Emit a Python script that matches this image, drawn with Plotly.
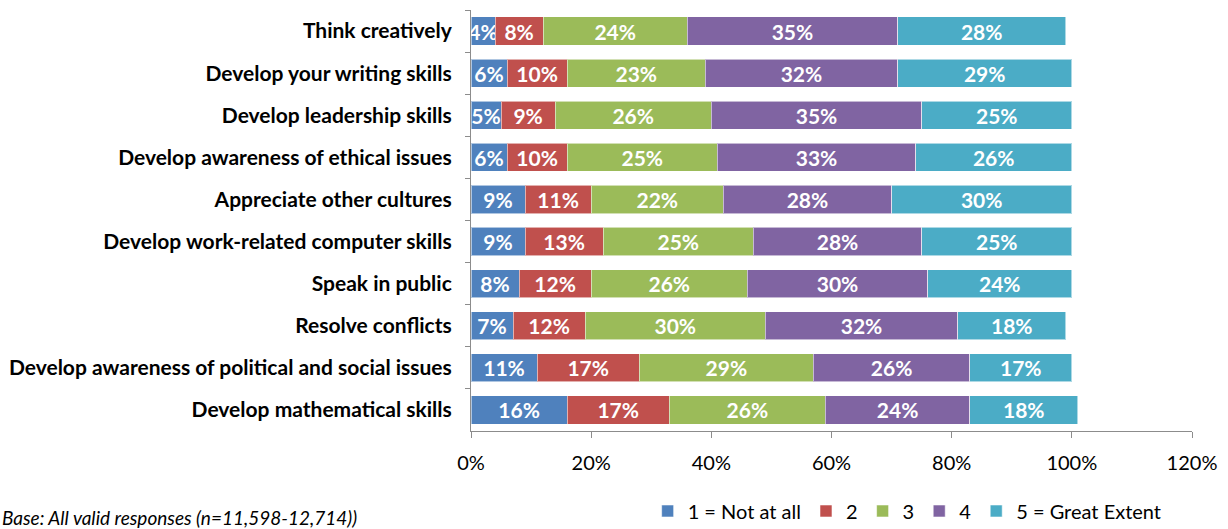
import plotly.graph_objects as go

categories = [
    "Think creatively",
    "Develop your writing skills",
    "Develop leadership skills",
    "Develop awareness of ethical issues",
    "Appreciate other cultures",
    "Develop work-related computer skills",
    "Speak in public",
    "Resolve conflicts",
    "Develop awareness of political and social issues",
    "Develop mathematical skills",
]

series_names = ["1 = Not at all", "2", "3", "4", "5 = Great Extent"]

not_at_all = [4, 6, 5, 6, 9, 9, 8, 7, 11, 16]
level_2 = [8, 10, 9, 10, 11, 13, 12, 12, 17, 17]
level_3 = [24, 23, 26, 25, 22, 25, 26, 30, 29, 26]
level_4 = [35, 32, 35, 33, 28, 28, 30, 32, 26, 24]
great_extent = [28, 29, 25, 26, 30, 25, 24, 18, 17, 18]

x_tick_values = [0, 20, 40, 60, 80, 100, 120]

series_values = [not_at_all, level_2, level_3, level_4, great_extent]
colors = ["#4F81BD", "#C0504D", "#9BBB59", "#8064A2", "#4BACC6"]

FONT = "Lato"

fig = go.Figure()
for name, vals, col in zip(series_names, series_values, colors):
    fig.add_trace(go.Bar(
        y=categories,
        x=vals,
        name=name,
        orientation="h",
        marker=dict(color=col, line=dict(color="rgba(255,255,255,0.55)", width=1)),
        text=[f"{v}%" for v in vals],
        textposition="inside",
        insidetextanchor="middle",
        textangle=0,
        textfont=dict(family=FONT, size=21, color="white", weight="bold"),
        width=0.67,
        hoverinfo="skip",
    ))

fig.update_layout(
    barmode="stack",
    width=1228,
    height=529,
    margin=dict(l=471, r=36, t=10, b=98, autoexpand=False),
    paper_bgcolor="white",
    plot_bgcolor="white",
    font=dict(family=FONT, color="black"),
    uniformtext=dict(minsize=21, mode="show"),
    showlegend=True,
    legend=dict(
        orientation="h",
        x=0.245, xanchor="left",
        y=-0.19, yanchor="middle",
        font=dict(family=FONT, size=20, color="black"),
        traceorder="normal",
        itemwidth=30,
        tracegroupgap=0,
    ),
    xaxis=dict(
        range=[0, 120],
        tickvals=x_tick_values,
        ticktext=[f"{v}%" for v in x_tick_values],
        showgrid=False,
        zeroline=False,
        showline=True,
        linecolor="#8C8C8C",
        linewidth=1,
        ticks="outside",
        ticklen=6,
        tickcolor="#8C8C8C",
        ticklabelstandoff=8,
        tickfont=dict(family=FONT, size=20, color="black"),
    ),
    yaxis=dict(
        categoryorder="array",
        categoryarray=categories,
        autorange="reversed",
        showgrid=False,
        zeroline=False,
        showline=True,
        linecolor="#8C8C8C",
        linewidth=1,
        ticks="outside",
        tickson="boundaries",
        ticklen=5,
        tickcolor="#8C8C8C",
        ticklabelstandoff=14,
        tickfont=dict(family=FONT, size=21, color="black", weight="bold"),
    ),
    annotations=[dict(
        text="<i>Base: All valid responses (n=11,598-12,714))</i>",
        xref="paper", yref="paper",
        x=-0.653, xanchor="left",
        y=-0.205, yanchor="middle",
        showarrow=False,
        font=dict(family=FONT, size=19, color="black"),
    )],
)

fig.write_html("out.html")
